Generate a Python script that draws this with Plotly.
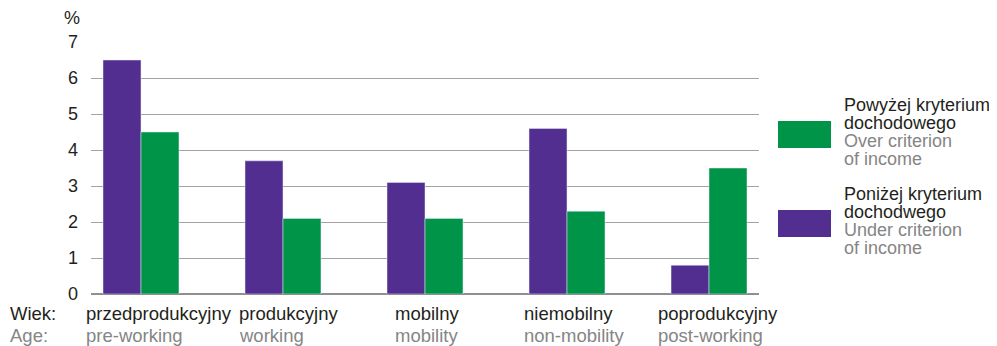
import plotly.graph_objects as go

categories_pl = ["przedprodukcyjny", "produkcyjny", "mobilny", "niemobilny", "poprodukcyjny"]
categories_en = ["pre-working", "working", "mobility", "non-mobility", "post-working"]
under_income = [6.5, 3.7, 3.1, 4.6, 0.8]
over_income = [4.5, 2.1, 2.1, 2.3, 3.5]
y_ticks = [0, 1, 2, 3, 4, 5, 6, 7]

PURPLE = "#522e91"
GREEN = "#009448"
DARK = "#231f20"
GREY = "#858585"
FONT = "Liberation Sans, Arial, sans-serif"

# plot area in page pixels (page body has an 8px margin)
PX0, PX1, PY0, PY1 = 91, 759, 42, 294


def px(xp):
    return (xp - PX0) / (PX1 - PX0)


def py(yp):
    return (PY1 - yp) / (PY1 - PY0)


x = list(range(len(categories_pl)))

fig = go.Figure()
fig.add_trace(go.Bar(x=x, y=under_income, marker_color=PURPLE, name="under"))
fig.add_trace(go.Bar(x=x, y=over_income, marker_color=GREEN, name="over"))

fig.update_layout(
    width=989, height=338,
    margin=dict(l=83, r=238, t=34, b=52),
    barmode="group", bargap=0.465, bargroupgap=0,
    plot_bgcolor="white", paper_bgcolor="white",
    showlegend=False,
    font=dict(family=FONT, size=18, color=DARK),
    xaxis=dict(range=[-0.352, 4.352], showticklabels=False, showgrid=False,
               zeroline=False, showline=False, fixedrange=True),
    yaxis=dict(range=[0, 7], tickvals=y_ticks, showgrid=True, gridcolor="#a3a3a3",
               gridwidth=1, zeroline=True, zerolinecolor="#8f8f8f", zerolinewidth=2,
               showline=False, ticks="", ticklabelstandoff=12,
               tickfont=dict(size=18, color=DARK)),
)

ann = []
label_left_px = [84, 237, 393, 522, 656]
for i, (pl, en) in enumerate(zip(categories_pl, categories_en)):
    ann.append(dict(x=px(label_left_px[i]), y=py(313), xref="paper", yref="paper", text=pl,
                    showarrow=False, xanchor="left", yanchor="middle",
                    font=dict(size=18.5, color=DARK)))
    ann.append(dict(x=px(label_left_px[i]), y=py(335), xref="paper", yref="paper", text=en,
                    showarrow=False, xanchor="left", yanchor="middle",
                    font=dict(size=18.5, color=GREY)))

ann.append(dict(x=px(8), y=py(313), xref="paper", yref="paper", text="Wiek:",
                showarrow=False, xanchor="left", yanchor="middle", font=dict(size=18.5, color=DARK)))
ann.append(dict(x=px(8), y=py(335), xref="paper", yref="paper", text="Age:",
                showarrow=False, xanchor="left", yanchor="middle", font=dict(size=18.5, color=GREY)))
ann.append(dict(x=px(72), y=py(18), xref="paper", yref="paper", text="%",
                showarrow=False, xanchor="center", yanchor="middle", font=dict(size=18, color=DARK)))

legend_lines = [
    ("Powyżej kryterium", DARK, 105), ("dochodowego", DARK, 123),
    ("Over criterion", GREY, 141), ("of income", GREY, 159),
    ("Poniżej kryterium", DARK, 194), ("dochodwego", DARK, 212),
    ("Under criterion", GREY, 230), ("of income", GREY, 248),
]
for t, c, yy in legend_lines:
    ann.append(dict(x=px(842), y=py(yy), xref="paper", yref="paper", text=t, showarrow=False,
                    xanchor="left", yanchor="middle", font=dict(size=18, color=c)))

fig.update_layout(annotations=ann)
fig.add_shape(type="rect", xref="paper", yref="paper", x0=px(778), x1=px(831), y0=py(148), y1=py(121),
              fillcolor=GREEN, line_width=0)
fig.add_shape(type="rect", xref="paper", yref="paper", x0=px(778), x1=px(831), y0=py(237), y1=py(210),
              fillcolor=PURPLE, line_width=0)

fig.write_html("out.html")
